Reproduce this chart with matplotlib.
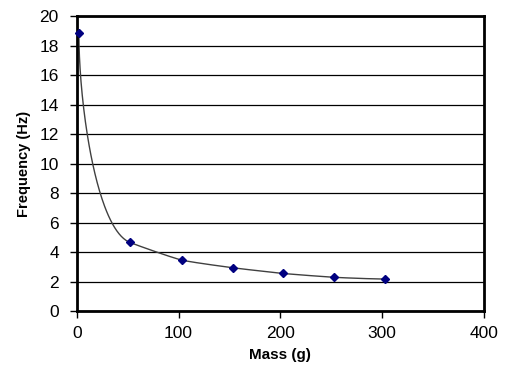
import matplotlib.pyplot as plt
import numpy as np

mass = [2, 52, 103, 153, 203, 253, 303]
freq = [18.85, 4.66, 3.46, 2.94, 2.55, 2.29, 2.17]

x_ticks = [0, 100, 200, 300, 400]
y_ticks = [0, 2, 4, 6, 8, 10, 12, 14, 16, 18, 20]

plt.rcParams['font.family'] = ['Liberation Sans', 'DejaVu Sans']


def unit(v):
    return v / np.linalg.norm(v)


def smooth_line(P, n=80):
    """bezier smoothing through screen points P (x kept increasing)"""
    seg = np.diff(P, axis=0)
    h = np.hypot(seg[:, 0], seg[:, 1])
    d = seg / h[:, None]
    m = len(P)
    T = np.zeros_like(P)
    for i in range(1, m - 1):
        T[i] = unit(h[i] ** 2 * d[i - 1] + h[i - 1] ** 2 * d[i])
    # end tangents: mirror the neighbour tangent about the end chord
    for e, nb, dd in [(0, 1, d[0]), (m - 1, m - 2, d[-1])]:
        t = 2 * np.dot(T[nb], dd) * dd - T[nb]
        t[0] = max(t[0], 0)
        T[e] = unit(t)
    s = np.linspace(0, 1, n)[:, None]
    out = []
    for i in range(m - 1):
        a0 = h[i] / 3 if i == 0 else h[i] / 6
        a1 = h[i] / 3 if i == m - 2 else h[i] / 6
        c1 = P[i] + a0 * T[i]
        c2 = P[i + 1] - a1 * T[i + 1]
        out.append((1 - s) ** 3 * P[i] + 3 * (1 - s) ** 2 * s * c1
                   + 3 * (1 - s) * s ** 2 * c2 + s ** 3 * P[i + 1])
    return np.vstack(out)


fig = plt.figure(figsize=(5.3, 3.85), dpi=100)
ax = fig.add_axes([0.145, 0.192, 0.768, 0.766])
ax.set_xlim(0, 400)
ax.set_ylim(0, 20)

# smoothed line between the points, worked out in screen space
P = ax.transData.transform(np.column_stack([mass, freq]))
curve = ax.transData.inverted().transform(smooth_line(P))
ax.plot(curve[:, 0], curve[:, 1], color='#404040', lw=1.0, zorder=2)

ax.plot(mass, freq, linestyle='none', marker='D', markersize=4,
        color='#000080', zorder=3, clip_on=False)

ax.set_xticks(x_ticks)
ax.set_yticks(y_ticks)
ax.yaxis.grid(True, color='black', lw=0.9)
ax.set_axisbelow(True)

for side in ax.spines.values():
    side.set_linewidth(2)
    side.set_color('black')

ax.tick_params(direction='out', length=5, width=1, labelsize=12.5, colors='black')
ax.tick_params(axis='y', pad=8)
ax.tick_params(axis='x', pad=6)
ax.set_xlabel('Mass (g)', fontsize=11, fontweight='bold', labelpad=5)
ax.set_ylabel('Frequency (Hz)', fontsize=10.5, fontweight='bold', labelpad=6)

fig.savefig('out.png', dpi=100)
